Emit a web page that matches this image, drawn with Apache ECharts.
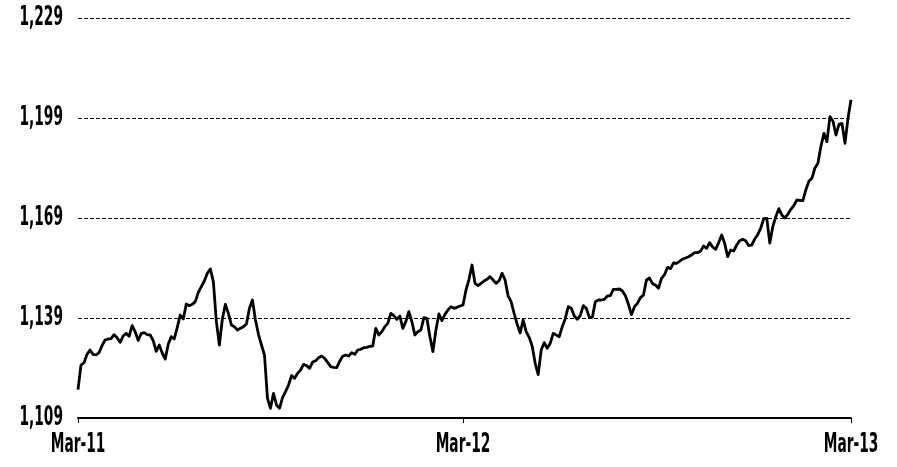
<!DOCTYPE html>
<html>
<head>
<meta charset="utf-8">
<script src="https://cdn.jsdelivr.net/npm/echarts@6/dist/echarts.min.js"></script>
<style>
html,body{margin:0;padding:0;background:#fff;}
#chart{width:897px;height:467px;}
</style>
</head>
<body>
<div id="chart"></div>
<script>
// Tick labels on the x axis and where they fall (index into the series)
var xTickLabels = ['Mar-11', 'Mar-12', 'Mar-13'];
var xTickIndex = [0, 128, 257];

// Y axis range / ticks
var yMin = 1109, yMax = 1229, yStep = 30;
var yTickValues = [1109, 1139, 1169, 1199, 1229];

// Series values, Mar-11 .. Mar-13
var values1 = [
1117.5,1124.9,1125.6,1128.1,1129.4,1128.1,1127.9,1128.6,1130.7,1132.4,
1132.7,1132.8,1134.0,1133.1,1131.7,1133.6,1134.4,1133.5,1136.7,1134.9,
1132.3,1134.3,1134.6,1134.0,1133.9,1132.2,1129.0,1130.9,1128.5,1126.7,
1131.1,1133.4,1132.7,1136.2,1139.9,1138.7,1143.2,1142.7
];
var values2 = [
1143.1,1143.9,1146.7,1148.4,1150.1,1152.4,1153.7,1149.9,1137.9,1130.9,
1138.7,1143.1,1140.4,1136.9,1136.4,1135.4,1135.9,1136.4,1137.2,1141.9,
1144.4,1138.4,1134.1,1130.9,1127.9,1114.9,1111.9,1116.4,1112.9,1111.9,
1115.1,1116.9,1118.9,1121.7,1120.9,1122.4,1123.4
];
var values3 = [
1125.1,1124.7,1123.9,1125.8,1126.2,1127.1,1127.6,1126.9,1125.7,1124.4,
1124.2,1124.1,1126.0,1127.5,1127.9,1127.6,1128.6,1128.1,1129.4,1129.6,
1130.1,1130.2,1130.5,1130.6,1135.9,1133.9,1134.9,1136.4,1137.4,1140.4,
1139.7,1138.6,1139.6,1135.9,1137.9,1140.9
];
var values4 = [
1137.9,1133.9,1134.9,1135.4,1139.1,1138.9,1133.4,1128.9,1135.4,1140.2,
1138.2,1140.1,1141.4,1142.4,1141.9,1142.2,1142.6,1142.9,1147.4,1150.6,
1154.9,1149.4,1148.7,1149.4,1150.1,1150.6,1151.4,1150.4,1149.4,1150.2,
1152.4,1150.4,1145.6,1143.9,1140.4,1137.2,1134.5
];
var values5 = [
1138.4,1134.9,1133.2,1130.6,1125.4,1122.0,1129.4,1131.6,1129.9,1131.4,
1134.4,1133.9,1133.4,1136.4,1138.8,1142.4,1141.9,1139.6,1138.6,1139.8,
1142.7,1141.9,1139.2,1139.2,1143.9,1144.4,1144.4,1144.6,1145.6,1145.7,
1147.6,1147.6,1147.7,1147.1,1145.7,1143.1,1140.0
];
var values6 = [
1142.4,1143.4,1145.1,1145.9,1150.4,1151.0,1149.3,1148.9,1147.9,1150.9,
1152.0,1154.2,1153.8,1155.5,1155.4,1156.0,1156.7,1157.0,1157.4,1157.9,
1158.6,1158.6,1159.1,1160.6,1159.9,1161.6,1160.3,1159.6,1161.6,1163.9,
1161.4,1157.4,1159.4,1159.1,1160.9,1162.2
];
var values7 = [
1162.6,1162.2,1160.7,1160.9,1162.7,1164.0,1166.0,1168.8,1168.9,1161.5,
1166.4,1169.4,1171.8,1169.9,1169.0,1170.1,1171.6,1172.7,1174.4,1174.3,
1174.2,1177.5,1180.0,1180.9,1184.0,1185.4,1190.5,1194.4,1191.9,1199.4,
1198.1,1193.9,1197.1,1197.4,1191.4,1198.9,1204.5
];

var values = [].concat(values1, values2, values3, values4, values5, values6, values7);

// Categories: blank except at the labelled ticks
var categories = values.map(function () { return ''; });
xTickIndex.forEach(function (idx, k) { categories[idx] = xTickLabels[k]; });

var FONT = 'bold 18px "DejaVu Sans Condensed", "Liberation Sans", sans-serif';
var TEXT_STRETCH_Y = 1.5;   // tall condensed lettering as in the reference
var TEXT_STRETCH_X = 0.85;

function showCat(index, value) { return value !== ''; }
function fmt(v) { return v.toLocaleString('en-US'); }

var chart = echarts.init(document.getElementById('chart'), null, {renderer: 'canvas'});
chart.setOption({
  animation: false,
  backgroundColor: '#fff',
  grid: {left: 78, right: 46, top: 18, bottom: 49, containLabel: false},
  xAxis: {
    type: 'category',
    data: categories,
    boundaryGap: false,
    axisLine: {show: true, lineStyle: {color: '#000', width: 2}},
    axisTick: {show: true, interval: showCat, length: 5, lineStyle: {color: '#000', width: 1}},
    axisLabel: {show: false, interval: showCat},
    splitLine: {show: false}
  },
  yAxis: {
    type: 'value',
    min: yMin, max: yMax, interval: yStep,
    axisLine: {show: false},
    axisTick: {show: false},
    axisLabel: {show: false, formatter: fmt},
    splitLine: {show: true, lineStyle: {color: '#000', width: 1, type: [4, 2]}}
  },
  series: [{
    type: 'line',
    data: values,
    showSymbol: false,
    symbol: 'none',
    smooth: false,
    lineStyle: {color: '#000', width: 2.8, join: 'round'},
    z: 3
  }]
});

// Axis labels drawn as stretched text, positioned through the axes' own scales
var x0 = chart.convertToPixel({xAxisIndex: 0}, 0);
var yAxisBottom = chart.convertToPixel({yAxisIndex: 0}, yMin);
var graphics = [];
yTickValues.forEach(function (v) {
  graphics.push({
    type: 'text',
    x: x0 - 15,
    y: chart.convertToPixel({yAxisIndex: 0}, v),
    scaleX: TEXT_STRETCH_X,
    scaleY: TEXT_STRETCH_Y,
    style: {text: fmt(v), font: FONT, fill: '#000', align: 'right', verticalAlign: 'middle'}
  });
});
xTickIndex.forEach(function (idx, k) {
  graphics.push({
    type: 'text',
    x: chart.convertToPixel({xAxisIndex: 0}, idx),
    y: yAxisBottom + 13,
    scaleX: TEXT_STRETCH_X,
    scaleY: TEXT_STRETCH_Y,
    style: {text: xTickLabels[k], font: FONT, fill: '#000', align: 'center', verticalAlign: 'top'}
  });
});
chart.setOption({graphic: graphics});
</script>
</body>
</html>
